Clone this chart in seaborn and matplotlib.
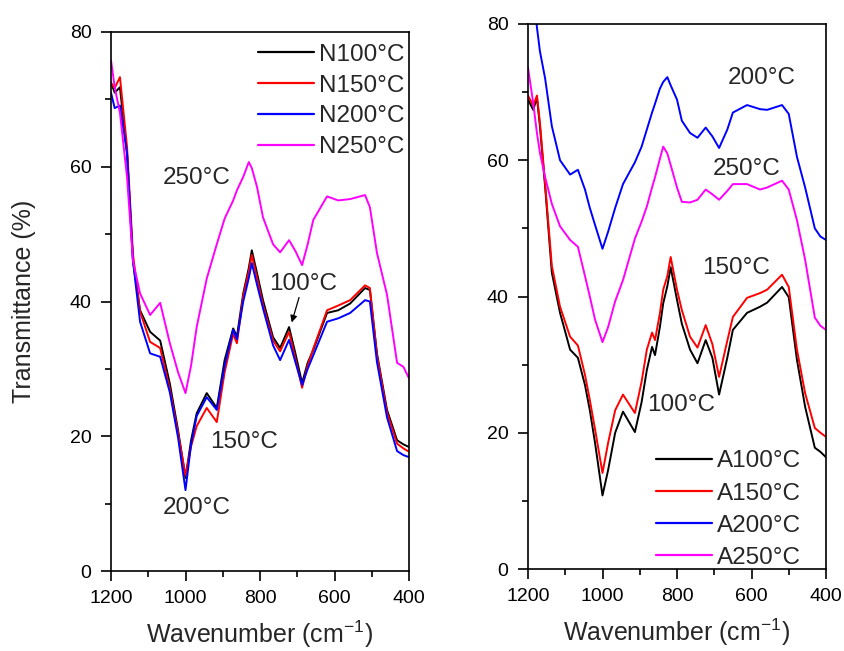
import numpy as np
import pandas as pd
import matplotlib
matplotlib.use("Agg")
import matplotlib.pyplot as plt
from matplotlib.ticker import MultipleLocator
import seaborn as sns

# ---------------- data ----------------
wn_left = [1200, 1190, 1176, 1157, 1141, 1122, 1095, 1068, 1042, 1020, 1000, 985, 970,
           943, 916, 895, 872, 862, 845, 830, 822, 808, 792, 765, 746, 722, 705, 687,
           672, 657, 620, 590, 558, 518, 505, 486, 459, 432, 415, 400]
n100 = [72.5, 71.0, 71.8, 62.0, 46.0, 38.7, 35.5, 34.2, 27.8, 20.9, 13.8, 19.4, 23.4,
        26.4, 24.2, 31.3, 36.0, 34.8, 41.2, 45.0, 47.6, 44.2, 40.2, 34.7, 33.1, 36.2,
        32.3, 27.9, 30.9, 32.8, 38.3, 38.7, 39.7, 42.0, 41.7, 32.3, 23.9, 19.4, 18.8, 18.4]
n150 = [72.4, 71.7, 73.3, 63.0, 47.0, 38.5, 34.0, 33.1, 27.0, 20.5, 14.2, 18.5, 21.5,
        24.2, 22.1, 29.5, 35.2, 33.8, 40.8, 44.5, 46.9, 43.5, 39.5, 34.2, 32.6, 35.5,
        31.5, 27.2, 30.5, 33.0, 38.7, 39.4, 40.2, 42.4, 42.0, 32.0, 23.5, 18.9, 18.2, 17.7]
n200 = [71.0, 68.7, 69.1, 62.0, 46.0, 37.0, 32.3, 31.8, 26.5, 19.8, 12.0, 18.8, 23.0,
        25.8, 23.9, 30.5, 35.8, 34.4, 40.0, 43.5, 45.7, 42.5, 39.0, 33.5, 31.3, 34.3,
        31.0, 27.6, 30.0, 32.0, 37.0, 37.5, 38.3, 40.2, 40.0, 31.0, 22.8, 17.8, 17.2, 16.9]
n250 = [75.8, 71.8, 68.0, 58.5, 46.0, 41.2, 38.0, 39.8, 33.8, 29.5, 26.4, 30.5, 36.2,
        43.4, 48.5, 52.3, 55.0, 56.5, 58.5, 60.7, 59.8, 57.0, 52.5, 48.5, 47.3, 49.1,
        47.5, 45.4, 48.5, 52.1, 55.6, 55.0, 55.2, 55.8, 54.0, 47.2, 41.0, 30.9, 30.3, 28.6]

wn_right = [1200, 1186, 1176, 1168, 1154, 1136, 1114, 1087, 1066, 1047, 1034, 1020, 1000,
            985, 966, 945, 913, 895, 881, 867, 859, 846, 837, 826, 817, 800, 787, 765,
            745, 723, 705, 687, 665, 650, 612, 577, 558, 518, 500, 478, 456, 430, 415, 400]
a100 = [68.9, 67.4, 69.2, 65.0, 56.1, 43.5, 37.6, 32.2, 31.0, 27.0, 23.3, 18.5, 10.8,
        14.5, 20.0, 23.1, 20.1, 24.5, 29.2, 32.6, 31.4, 35.5, 39.0, 41.5, 44.3, 39.5,
        36.0, 32.2, 30.2, 33.6, 31.0, 25.6, 31.0, 35.1, 37.6, 38.5, 39.1, 41.4, 39.9,
        30.7, 23.8, 17.8, 17.2, 16.4]
a150 = [69.5, 68.0, 69.5, 65.5, 56.5, 44.5, 38.5, 34.1, 32.8, 28.5, 24.8, 20.5, 14.1,
        18.5, 23.3, 25.6, 22.9, 27.5, 32.2, 34.7, 33.6, 37.5, 41.0, 43.0, 45.8, 41.0,
        38.0, 34.1, 32.5, 35.8, 33.0, 28.2, 33.5, 37.0, 39.8, 40.5, 41.0, 43.2, 41.4,
        32.2, 25.8, 20.7, 20.0, 19.4]
a200 = [91.0, 84.5, 79.5, 76.0, 72.0, 65.0, 60.0, 57.9, 58.6, 55.7, 53.0, 50.5, 47.0,
        49.5, 53.0, 56.5, 59.7, 62.0, 64.5, 67.0, 68.3, 70.5, 71.5, 72.2, 71.0, 68.9,
        65.8, 64.0, 63.3, 64.8, 63.5, 61.8, 64.5, 67.0, 68.1, 67.5, 67.4, 68.1, 66.8,
        60.5, 56.0, 50.0, 48.8, 48.3]
a250 = [73.6, 68.4, 64.0, 61.1, 57.5, 53.6, 50.3, 48.3, 47.3, 43.0, 40.0, 36.6, 33.3,
        35.5, 39.3, 42.4, 48.5, 51.0, 53.2, 56.0, 57.5, 60.2, 62.0, 61.0, 59.3, 56.0,
        53.9, 53.8, 54.2, 55.7, 55.0, 54.2, 55.5, 56.5, 56.5, 55.7, 56.0, 57.0, 55.7,
        51.2, 45.4, 36.9, 35.7, 35.1]

labels_left = ["N100\u00b0C", "N150\u00b0C", "N200\u00b0C", "N250\u00b0C"]
labels_right = ["A100\u00b0C", "A150\u00b0C", "A200\u00b0C", "A250\u00b0C"]
colors = ["#000000", "#ff0000", "#0000ff", "#ff00ff"]
xticks = [1200, 1000, 800, 600, 400]
yticks = [0, 20, 40, 60, 80]


def long_df(wn, series, labels):
    frames = []
    for lab, vals in zip(labels, series):
        frames.append(pd.DataFrame({"wn": wn, "T": vals, "series": lab}))
    return pd.concat(frames, ignore_index=True)


df_left = long_df(wn_left, [n100, n150, n200, n250], labels_left)
df_right = long_df(wn_right, [a100, a150, a200, a250], labels_right)

# ---------------- style ----------------
sns.set_style("ticks")
plt.rcParams["font.family"] = ["Liberation Sans", "DejaVu Sans"]
plt.rcParams["mathtext.fontset"] = "custom"
plt.rcParams["mathtext.rm"] = "Liberation Sans"
plt.rcParams["axes.linewidth"] = 1.2
for k in ["xtick.major.width", "ytick.major.width", "xtick.minor.width", "ytick.minor.width"]:
    plt.rcParams[k] = 1.2

W, H = 844, 651
fig = plt.figure(figsize=(W / 100, H / 100), dpi=100)
ax1 = fig.add_axes([111 / W, 1 - 571 / H, 298 / W, 539 / H])
ax2 = fig.add_axes([528 / W, 1 - 569 / H, 298 / W, 545 / H])

for ax, df, labels in [(ax1, df_left, labels_left), (ax2, df_right, labels_right)]:
    sns.lineplot(data=df, x="wn", y="T", hue="series", hue_order=labels,
                 palette=dict(zip(labels, colors)), linewidth=1.4, ax=ax)
    ax.set_xlim(1200, 400)
    ax.set_ylim(0, 80)
    ax.set_xticks(xticks)
    ax.set_yticks(yticks)
    ax.xaxis.set_minor_locator(MultipleLocator(100))
    ax.yaxis.set_minor_locator(MultipleLocator(10))
    ax.tick_params(which="major", direction="out", length=7, labelsize=14,
                   colors="black", pad=7)
    ax.tick_params(which="minor", direction="out", length=4, colors="black")
    for s in ax.spines.values():
        s.set_visible(True)
        s.set_color("black")
    ax.set_xlabel("Wavenumber (cm$^{\\mathregular{-1}}$)", fontsize=18, labelpad=8)
    ax.set_ylabel("Transmittance (%)", fontsize=18, labelpad=24)

ax2.set_ylabel("")

sns.move_legend(ax1, "upper right", bbox_to_anchor=(0.985, 0.978), frameon=False,
                title=None, fontsize=17.5, handlelength=2.3, handletextpad=0.2,
                labelspacing=0.36, borderpad=0, borderaxespad=0)
sns.move_legend(ax2, "lower right", bbox_to_anchor=(0.915, 0.0), frameon=False,
                title=None, fontsize=17.5, handlelength=2.3, handletextpad=0.2,
                labelspacing=0.42, borderpad=0, borderaxespad=0)
for leg in (ax1.get_legend(), ax2.get_legend()):
    for ln in leg.get_lines():
        ln.set_linewidth(1.6)

# annotations
ax1.text(969, 58.3, "250\u00b0C", fontsize=17.5, ha="center", va="center")
ax1.text(685, 42.6, "100\u00b0C", fontsize=17.5, ha="center", va="center")
ax1.text(843, 19.1, "150\u00b0C", fontsize=17.5, ha="center", va="center")
ax1.text(969, 9.3, "200\u00b0C", fontsize=17.5, ha="center", va="center")
ax1.annotate("", xy=(717, 36.5), xytext=(693, 41.0),
             arrowprops=dict(arrowstyle="-|>", color="black", lw=0.9,
                             mutation_scale=10))

ax2.text(572, 72.1, "200\u00b0C", fontsize=17.5, ha="center", va="center")
ax2.text(612, 58.7, "250\u00b0C", fontsize=17.5, ha="center", va="center")
ax2.text(642, 44.2, "150\u00b0C", fontsize=17.5, ha="center", va="center")
ax2.text(789, 24.1, "100\u00b0C", fontsize=17.5, ha="center", va="center")

fig.savefig("out.png", dpi=100)
